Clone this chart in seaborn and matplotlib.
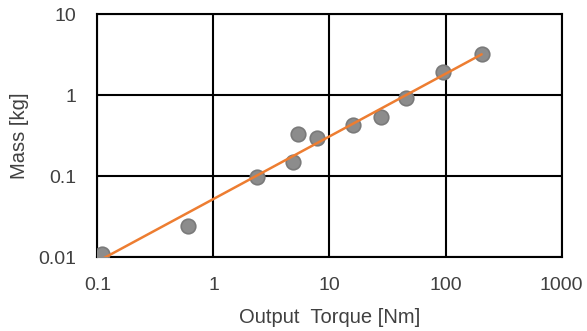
import numpy as np
import pandas as pd
import matplotlib
matplotlib.use("Agg")
import matplotlib.pyplot as plt
import seaborn as sns
from matplotlib.ticker import FixedLocator, FixedFormatter, NullLocator

torque = [0.11, 0.6, 2.36, 4.8, 5.4, 7.85, 15.8, 27.6, 45.7, 95.7, 205]
mass = [0.011, 0.0245, 0.099, 0.149, 0.33, 0.294, 0.427, 0.53, 0.93, 1.92, 3.2]

x_ticks = [0.1, 1, 10, 100, 1000]
x_labels = ["0.1", "1", "10", "100", "1000"]
y_ticks = [0.01, 0.1, 1, 10]
y_labels = ["0.01", "0.1", "1", "10"]

sns.set_theme(style="white")
plt.rcParams["font.family"] = ["Liberation Sans", "DejaVu Sans"]

df = pd.DataFrame({"torque": torque, "mass": mass})

fig = plt.figure(figsize=(5.87, 3.31), dpi=100)
ax = fig.add_axes([0.166, 0.2227, 0.7906, 0.735])
ax.set_xscale("log")
ax.set_yscale("log")

sns.scatterplot(data=df, x="torque", y="mass", ax=ax, s=110,
                color="#8c8c8c", edgecolor="#7a7a7a", linewidth=1.2, zorder=3)

# power-law trendline (least squares in log space)
b, loga = np.polyfit(np.log10(df["torque"]), np.log10(df["mass"]), 1)
xl = np.array([min(torque), max(torque)])
yl = 10 ** loga * xl ** b
sns.lineplot(x=xl, y=yl, ax=ax, color="#ED7D31", linewidth=1.8, zorder=4)

ax.set_xlim(0.1, 1000)
ax.set_ylim(0.01, 10)
ax.xaxis.set_major_locator(FixedLocator(x_ticks))
ax.xaxis.set_major_formatter(FixedFormatter(x_labels))
ax.xaxis.set_minor_locator(NullLocator())
ax.yaxis.set_major_locator(FixedLocator(y_ticks))
ax.yaxis.set_major_formatter(FixedFormatter(y_labels))
ax.yaxis.set_minor_locator(NullLocator())

ax.grid(True, which="major", color="black", linewidth=1.5)
ax.set_axisbelow(True)
for sp in ax.spines.values():
    sp.set_color("black")
    sp.set_linewidth(1.5)
ax.tick_params(axis="x", length=0, labelsize=14, colors="#404040", pad=14)
ax.tick_params(axis="y", length=0, labelsize=14, colors="#404040", pad=15)

ax.set_xlabel("Output  Torque [Nm]", fontsize=14.5, color="#404040", labelpad=10)
ax.set_ylabel("Mass [kg]", fontsize=14.5, color="#404040", labelpad=7)

fig.savefig("out.png", dpi=100)
